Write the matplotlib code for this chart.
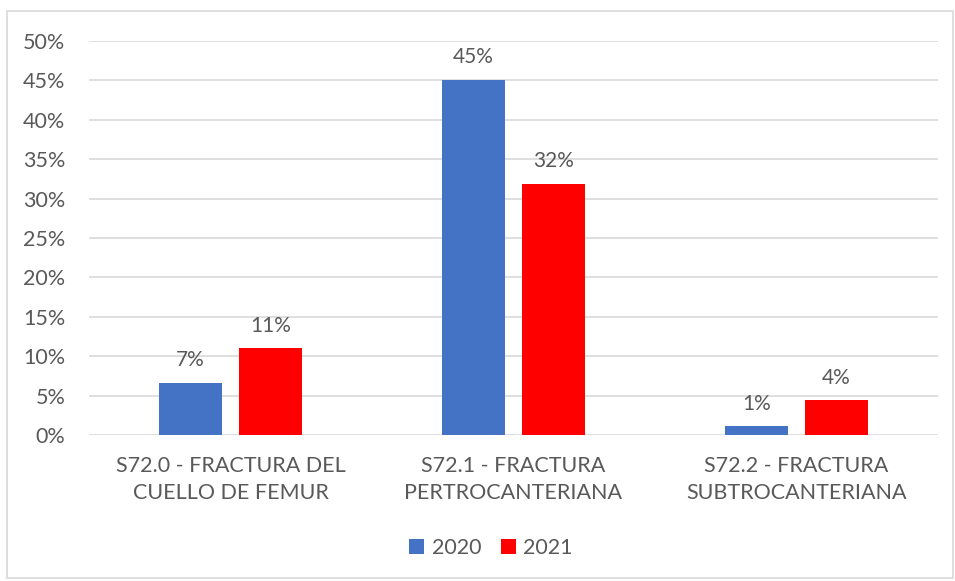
import matplotlib
matplotlib.use("Agg")
import matplotlib.pyplot as plt
from matplotlib.patches import Rectangle
import numpy as np

categories = ["S72.0 - FRACTURA DEL\nCUELLO DE FEMUR",
              "S72.1 - FRACTURA\nPERTROCANTERIANA",
              "S72.2 - FRACTURA\nSUBTROCANTERIANA"]
series_names = ["2020", "2021"]
values_2020 = [6.6, 45.1, 1.1]
values_2021 = [11.0, 31.9, 4.4]
labels_2020 = ["7%", "45%", "1%"]
labels_2021 = ["11%", "32%", "4%"]
colors = ["#4472C4", "#FF0000"]
text_color = "#595959"

plt.rcParams['font.family'] = ['Lato', 'DejaVu Sans']

fig = plt.figure(figsize=(9.55, 5.81), dpi=100)
# outer border
fig.patches.append(Rectangle((7/955, 3/581), 946/955, 567/581, transform=fig.transFigure,
                             fill=False, edgecolor="#D9D9D9", linewidth=1.2))
ax = fig.add_axes([89/955, 1 - 435/581, 849/955, 394/581])

x = np.arange(len(categories))
w = 0.226
off = 0.1413
b1 = ax.bar(x - off, values_2020, w, color=colors[0], label=series_names[0], zorder=3)
b2 = ax.bar(x + off, values_2021, w, color=colors[1], label=series_names[1], zorder=3)
for bars, labs in ((b1, labels_2020), (b2, labels_2021)):
    for r, l in zip(bars, labs):
        ax.annotate(l, (r.get_x() + r.get_width() / 2, r.get_height()), xytext=(0, 9),
                    textcoords="offset points", ha="center", va="bottom",
                    fontsize=15, color=text_color)

ax.set_xlim(-0.5, 2.5)
ax.set_ylim(0, 50)
ax.set_yticks(np.arange(0, 51, 5))
ax.set_yticklabels([f"{v}%" for v in range(0, 51, 5)])
ax.set_xticks(x)
ax.set_xticklabels(categories, linespacing=1.45)
ax.grid(axis="y", color="#D9D9D9", linewidth=1.2, zorder=0)
for s in ax.spines.values():
    s.set_visible(False)
ax.tick_params(axis="both", length=0, labelsize=15.5, colors=text_color)
ax.tick_params(axis="y", pad=17)
ax.tick_params(axis="x", pad=15)

leg = fig.legend(handles=[b1, b2], labels=series_names, loc="center",
                 bbox_to_anchor=(491/955, 1 - 548/581), ncol=2, frameon=False,
                 fontsize=15.5, handlelength=0.7, handleheight=0.7,
                 columnspacing=0.9, handletextpad=0.35)
for t in leg.get_texts():
    t.set_color(text_color)

fig.savefig("out.png", dpi=100)
